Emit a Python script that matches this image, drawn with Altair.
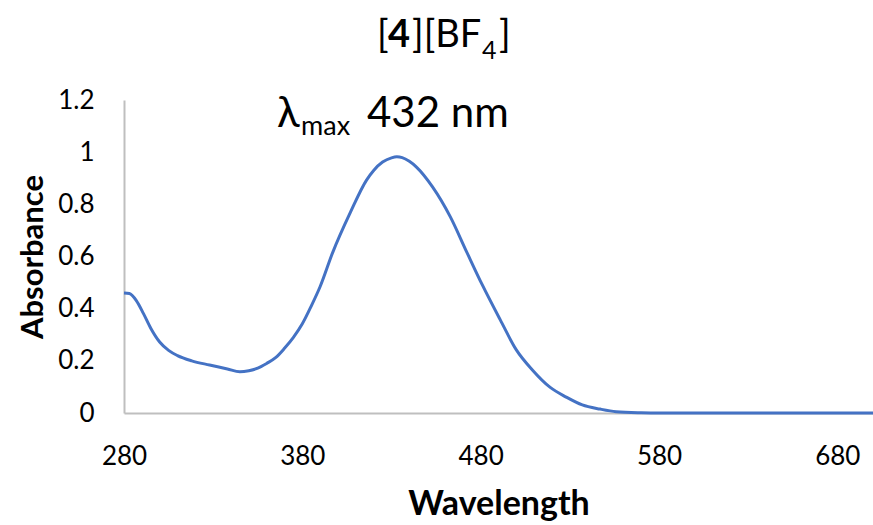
import altair as alt
import pandas as pd

wavelength = [280, 283, 287, 291, 295, 300, 305, 310, 318, 328, 338, 345, 350, 355,
              360, 365, 370, 375, 380, 385, 390, 397, 407, 416, 420, 425, 430, 433,
              436, 440, 444, 453, 463, 472, 481, 491, 500, 509, 519, 528, 537, 547,
              556, 570, 580, 600, 650, 700]
absorbance = [0.46, 0.458, 0.43, 0.38, 0.325, 0.272, 0.24, 0.22, 0.2, 0.184, 0.169,
              0.158, 0.162, 0.172, 0.19, 0.212, 0.248, 0.29, 0.342, 0.41, 0.485, 0.615,
              0.77, 0.893, 0.93, 0.962, 0.978, 0.982, 0.979, 0.965, 0.943, 0.867, 0.752,
              0.62, 0.49, 0.357, 0.242, 0.165, 0.098, 0.061, 0.031, 0.015, 0.005, 0.001,
              0.0, 0.0, 0.0, 0.0]
x_ticks = [280, 380, 480, 580, 680]
y_ticks = [0, 0.2, 0.4, 0.6, 0.8, 1.0, 1.2]

FONT = "Lato"
df = pd.DataFrame({"wl": wavelength, "ab": absorbance})

line = alt.Chart(df).mark_line(color="#4472C4", strokeWidth=3, interpolate="monotone").encode(
    x=alt.X("wl:Q", scale=alt.Scale(domain=[280, 700], nice=False, zero=False),
            axis=alt.Axis(values=x_ticks, title="Wavelength", ticks=False, grid=False,
                          labelPadding=30, titlePadding=18, labelFlush=False,
                          labelOverlap=False, titleFontSize=34)),
    y=alt.Y("ab:Q", scale=alt.Scale(domain=[0, 1.2], nice=False),
            axis=alt.Axis(values=y_ticks, format="~g", title="Absorbance", ticks=False,
                          grid=False, labelPadding=30, titlePadding=8, titleFontSize=31)),
)

def txt(s, x, y, size, bold=False):
    return alt.Chart(pd.DataFrame({"t": [s]})).mark_text(
        align="left", baseline="alphabetic", font=FONT, fontSize=size,
        fontWeight="bold" if bold else "normal", color="#000000"
    ).encode(x=alt.value(x), y=alt.value(y), text="t:N")

title_parts = [
    txt("[", 253, -53, 38),
    txt("4", 264, -53, 38, bold=True),
    txt("][BF", 288, -53, 38),
    txt("4", 358, -41, 25),
    txt("]", 375, -53, 38),
]
lam_parts = [
    txt("λ", 153, 27, 42),
    txt("max", 177, 35, 27),
    txt("432 nm", 243, 27, 42),
]

chart = alt.layer(line, *title_parts, *lam_parts).properties(
    width=749, height=313,
    background="white",
    autosize=alt.AutoSizeParams(type="none"),
    padding={"left": 124, "top": 100, "right": 0, "bottom": 112},
).configure_view(stroke=None).configure_axis(
    domainColor="#BFBFBF", domainWidth=2, labelFont=FONT, labelFontSize=26,
    labelColor="#000000", titleFont=FONT, titleFontWeight="bold",
    titleColor="#000000",
)

chart.save("out.html", embed_options={"renderer": "svg", "actions": False})
